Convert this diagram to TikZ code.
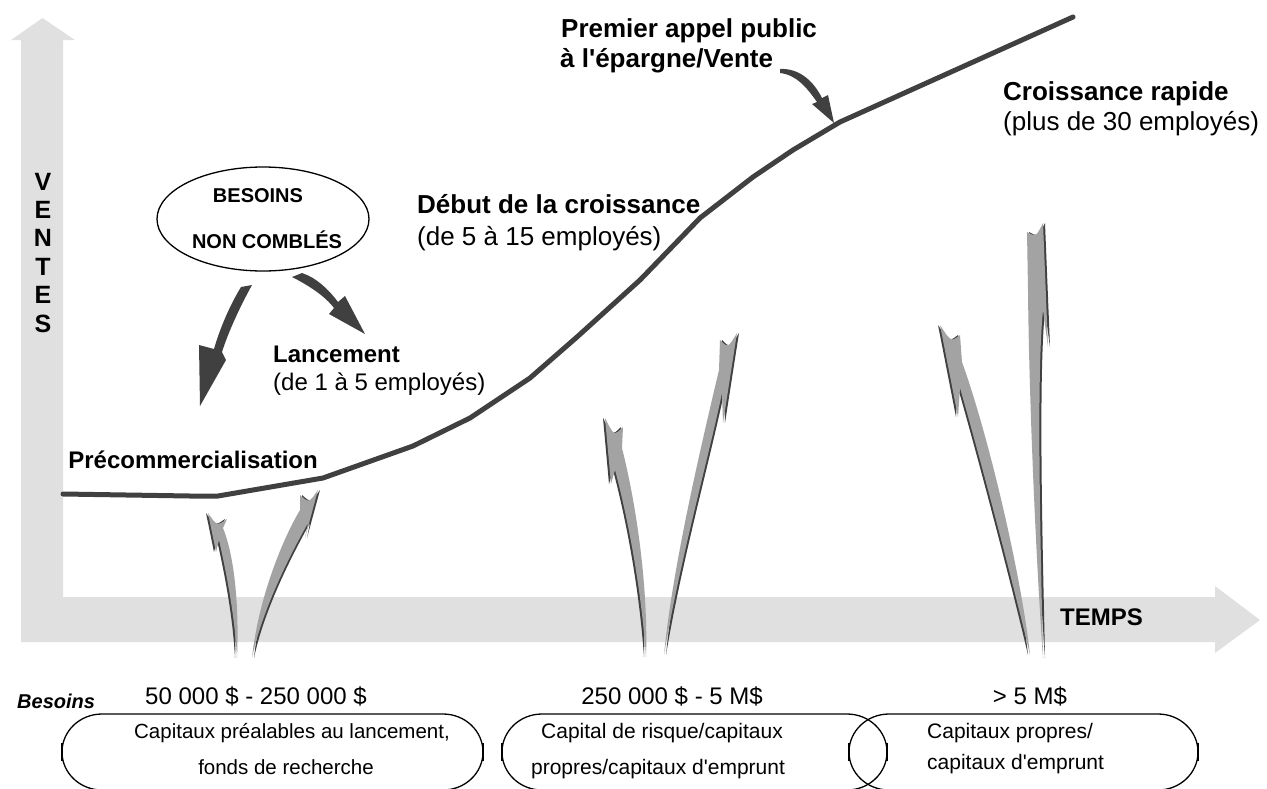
\documentclass[tikz,border=0pt]{standalone}
\usepackage{fontspec}
\setmainfont{Liberation Sans}[Ligatures=TeXOff]
\usetikzlibrary{shapes.geometric}
\definecolor{axisgray}{HTML}{E0E0E0}
\definecolor{arrowgray}{HTML}{A3A3A3}
\definecolor{darkline}{HTML}{404040}
\newcommand\fundarrow[2]{\fill[fundshadow,xshift=#1]#2;\fill[fundfill]#2;}
\tikzset{
  axisfill/.style={fill=axisgray},
  curveline/.style={draw=darkline,line width=5pt,line join=round,line cap=round},
  fundfill/.style={fill=arrowgray},
  fundshadow/.style={fill=darkline},
  ptrfill/.style={fill=darkline},
  boxline/.style={draw=black,line width=1.3pt},
  tickline/.style={draw=black,line width=2pt},
  hugebf/.style={inner sep=0pt,font=\fontsize{26}{30}\selectfont\bfseries},
  hugerm/.style={inner sep=0pt,font=\fontsize{26}{30}\selectfont},
  bigbf/.style={inner sep=0pt,font=\fontsize{24}{28}\selectfont\bfseries},
  bigrm/.style={inner sep=0pt,font=\fontsize{24}{28}\selectfont},
  axbf/.style={inner sep=0pt,font=\fontsize{25}{30}\selectfont\bfseries},
  ellbf/.style={inner sep=0pt,font=\fontsize{20}{24}\selectfont\bfseries},
  amount/.style={inner sep=0pt,font=\fontsize{24}{28}\selectfont},
  boxtxt/.style={inner sep=0pt,font=\fontsize{20.5}{24}\selectfont},
  boxtxtb/.style={inner sep=0pt,font=\fontsize{21}{24}\selectfont},
  besbf/.style={inner sep=0pt,font=\fontsize{20}{24}\selectfont\bfseries\itshape},
}
\begin{document}
\begin{tikzpicture}[x=1pt,y=-1pt]
\useasboundingbox (0,0) rectangle (1267,788);
% axes
\fill[axisfill] (21,40) -- (11,40) -- (42.5,18) -- (75,40) -- (63,40) -- (63,597)
  -- (1215,597) -- (1215,586) -- (1260,620) -- (1215,653) -- (1215,642) -- (21,642) -- cycle;
% VENTES
\foreach \ch [count=\i from 0] in {V,E,N,T,E,S}
  \node[axbf,anchor=base] (v\i) at (43,190+28.4*\i) {\ch};
\node[bigbf,anchor=base west] (temps) at (1060,625) {TEMPS};
% growth curve
\coordinate (c1) at (63,494);
\coordinate (c2) at (218,496);
\coordinate (c3) at (323,478);
\coordinate (c4) at (413,446);
\coordinate (c5) at (470,418);
\coordinate (c6) at (530,378);
\coordinate (c7) at (577,337);
\coordinate (c8) at (640,280);
\coordinate (c9) at (700,218);
\coordinate (c10) at (753,177);
\coordinate (c11) at (793,150);
\coordinate (ipo) at (840,122);
\coordinate (c13) at (1073,17);
\draw[curveline] (c1) -- (190,496) -- (c2) -- (c3) -- (c4) -- (c5) -- (c6) -- (c7) -- (c8) -- (c9) -- (c10) -- (c11) -- (ipo) -- (c13);
% labels
\node[hugebf,anchor=base west] (ipo1) at (561,37) {Premier appel public};
\node[hugebf,anchor=base west] (ipo2) at (560,67) {à l'épargne/Vente};
\node[hugebf,anchor=base west] (rap1) at (1003,100) {Croissance rapide};
\node[hugerm,anchor=base west] (rap2) at (1003,130) {(plus de 30 employés)};
\node[hugebf,anchor=base west] (deb1) at (417,213) {Début de la croissance};
\node[hugerm,anchor=base west] (deb2) at (417,245) {(de 5 à 15 employés)};
\node[bigbf,anchor=base west] (lan1) at (273,362) {Lancement};
\node[bigrm,anchor=base west] (lan2) at (273,390) {(de 1 à 5 employés)};
\node[bigbf,anchor=base east] (pre) at (318,468) {Précommercialisation};
% ellipse
\node[draw,line width=1.3pt,ellipse,minimum width=212pt,minimum height=104pt,inner sep=0pt] (needs) at (263,219) {};
\node[ellbf,anchor=base] (nb1) at (258,202) {BESOINS};
\node[ellbf,anchor=base] (nb2) at (267,248) {NON COMBLÉS};
% dark pointer arrows
\fill[ptrfill] (780,69) .. controls (800,68) and (814,82) .. (822,98) -- (828,95) -- (834,123)
  -- (812,104) -- (817,102) .. controls (807,88) and (797,75) .. (780,73) -- cycle;
\fill[ptrfill] (241,287) -- (252,285) .. controls (241,305) and (229,330) .. (222,352) -- (226,360)
  -- (200,406) -- (199,345) -- (214,349) .. controls (220,328) and (230,305) .. (241,287) -- cycle;
\fill[ptrfill] (292,277) -- (302,273) .. controls (317,278) and (329,290) .. (338,302) -- (345,296)
  -- (365,334) -- (329,314) -- (334,308) .. controls (325,296) and (308,285) .. (292,277) -- cycle;
% funding arrows
\fundarrow{-2pt}{(208,513) -- (216,552) -- (219,540) .. controls (228,580) and (235,620) .. (237,658)
  .. controls (239,615) and (236,560) .. (223,528) -- (227,519) .. controls (217,526) .. (208,513) -- cycle}
\fundarrow{2pt}{(300,495) .. controls (309,503) .. (318,490) -- (305,538) -- (308,523)
  .. controls (290,555) and (262,610) .. (252,658) .. controls (258,600) and (282,540) .. (300,510) -- cycle}
\fundarrow{-2pt}{(605,418) -- (611,484) -- (615,470) .. controls (627,515) and (641,585) .. (646,657)
  .. controls (648,600) and (640,520) .. (622,448) -- (623,427) .. controls (614,436) .. (605,418) -- cycle}
\fundarrow{2pt}{(720,340) .. controls (728,348) .. (737,333) -- (723,423) -- (722,393)
  .. controls (708,460) and (680,560) .. (664,655) .. controls (672,570) and (700,450) .. (719,370) -- cycle}
\fundarrow{-2pt}{(940,325) -- (958,417) -- (960,388) .. controls (975,440) and (1010,570) .. (1030,655)
  .. controls (1022,580) and (990,440) .. (962,362) -- (960,335) .. controls (951,342) .. (940,325) -- cycle}
\fundarrow{2pt}{(1027,232) .. controls (1036,237) .. (1043,223) -- (1048,347) -- (1043,310)
  .. controls (1036,380) and (1041,560) .. (1043,658) .. controls (1036,560) and (1029,400) .. (1028,290) -- cycle}
% Besoins
\node[besbf,anchor=base west] (bes) at (17,708) {Besoins};
\node[amount,anchor=base] (am1) at (256,704) {50 000 \$ - 250 000 \$};
\node[amount,anchor=base east] (am2) at (763,704) {250 000 \$ - 5 M\$};
\node[amount,anchor=base] (am3) at (1030,704) {> 5 M\$};
% boxes
\draw[boxline] (102,714) -- (443,714) arc[start angle=-90,end angle=90,x radius=40,y radius=38]
  -- (102,790) arc[start angle=90,end angle=270,x radius=40,y radius=38] -- cycle;
\draw[boxline] (542,714) -- (847,714) arc[start angle=-90,end angle=90,x radius=40,y radius=38]
  -- (542,790) arc[start angle=90,end angle=270,x radius=40,y radius=38] -- cycle;
\draw[boxline] (889,714) -- (1158,714) arc[start angle=-90,end angle=90,x radius=40,y radius=38]
  -- (889,790) arc[start angle=90,end angle=270,x radius=40,y radius=38] -- cycle;
\foreach \tx in {62,483,502,887,849,1198}
  \draw[tickline] (\tx,743) -- (\tx,761);
\node[boxtxt,anchor=base] (b1a) at (292,738) {Capitaux préalables au lancement,};
\node[boxtxt,anchor=base] (b1b) at (286,774) {fonds de recherche};
\node[boxtxtb,anchor=base] (b2a) at (662,738) {Capital de risque/capitaux};
\node[boxtxtb,anchor=base] (b2b) at (658,774) {propres/capitaux d'emprunt};
\node[boxtxtb,anchor=base west] (b3a) at (927,738) {Capitaux propres/};
\node[boxtxtb,anchor=base west] (b3b) at (927,769) {capitaux d'emprunt};
\end{tikzpicture}
\end{document}
